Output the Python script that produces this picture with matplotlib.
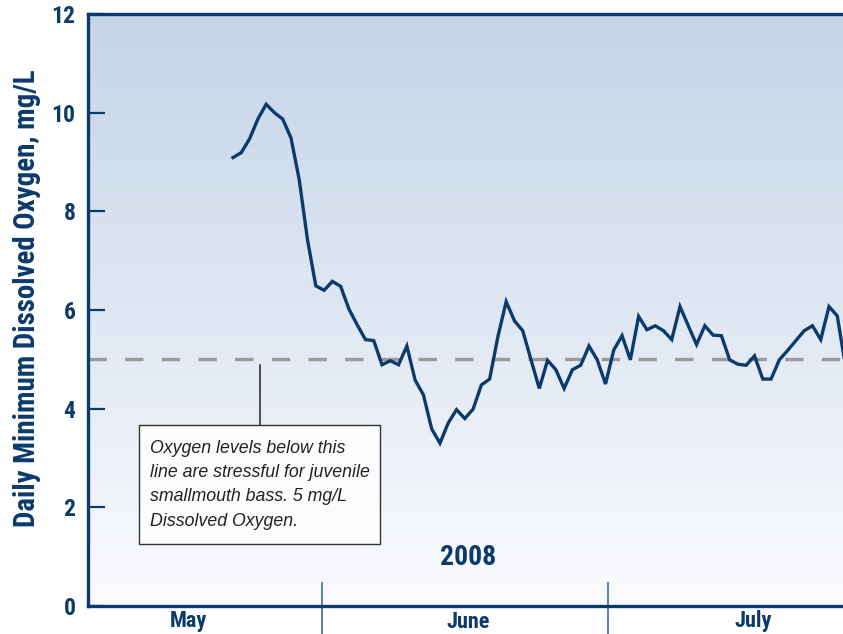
import numpy as np
import matplotlib.pyplot as plt
from matplotlib import font_manager
from matplotlib.colors import LinearSegmentedColormap
from matplotlib.patches import Rectangle

# daily minimum dissolved oxygen (mg/L), one value per day
oxygen = [9.09, 9.19, 9.47, 9.87, 10.17, 10.0, 9.87, 9.49, 8.64, 7.42,
          6.49, 6.40, 6.58, 6.48, 6.02, 5.70, 5.40, 5.38, 4.89, 4.97,
          4.89, 5.27, 4.58, 4.28, 3.59, 3.30, 3.71, 3.98, 3.80, 3.99,
          4.48, 4.60, 5.46, 6.17, 5.78, 5.58, 4.99, 4.41, 4.98, 4.79,
          4.41, 4.79, 4.88, 5.27, 4.99, 4.50, 5.19, 5.48, 4.99, 5.87,
          5.60, 5.68, 5.58, 5.40, 6.07, 5.68, 5.30, 5.68, 5.49, 5.48,
          4.99, 4.90, 4.88, 5.07, 4.60, 4.60, 4.99, 5.18, 5.38, 5.58,
          5.68, 5.40, 6.07, 5.88, 4.85]
day = np.arange(len(oxygen))

months = ["May", "June", "July"]
month_label_x = [-5.4, 28.4, 62.9]
month_label_y = [-0.31, -0.33, -0.31]
month_bounds = [10.75, 45.3]
threshold = 5
y_ticks = [0, 2, 4, 6, 8, 10, 12]

navy = "#0b3a6b"

# a narrow bold face if one is around, otherwise DejaVu
names = {f.name for f in font_manager.fontManager.ttflist}
narrow = [n for n in ["Liberation Sans Narrow", "Roboto Condensed",
                      "DejaVu Sans Condensed", "Open Sans Condensed"] if n in names]
bold_font = narrow[:1] + ["DejaVu Sans"]
k = 1.0 if narrow else 0.85

W, H = 843, 634
fig = plt.figure(figsize=(W / 100, H / 100), dpi=100)
ax = fig.add_axes([88 / W, 28 / H, (W - 88) / W, 592 / H])

xmin, xmax = -17.52, 73.69
ax.set_xlim(xmin, xmax)
ax.set_ylim(0, 12)

# background gradient
cmap = LinearSegmentedColormap.from_list("bg", ["#fafbfd", "#c5d4e9"])
grad = np.linspace(0, 1, 256).reshape(-1, 1)
ax.imshow(grad, extent=[xmin, xmax, 0, 12], origin="lower", aspect="auto",
          cmap=cmap, zorder=0)

# 5 mg/L reference
ax.axhline(threshold, color="#9a9a9a", lw=2.4, dashes=(5.5, 5.5), zorder=1)

ax.plot(day, oxygen, color=navy, lw=2.4, zorder=3, solid_joinstyle="miter")

# callout
ax.plot([3.26, 3.26], [4.88, 3.67], color="#222222", lw=1.1, zorder=2)
ax.add_patch(Rectangle((-11.36, 1.26), 29.12, 2.41, facecolor="#fbfcfe",
                       edgecolor="#333333", lw=1.0, zorder=4))
ax.text(-10.0, 3.37, "Oxygen levels below this\nline are stressful for juvenile\n"
        "smallmouth bass. 5 mg/L\nDissolved Oxygen.", fontsize=12.8,
        style="italic", family=["Liberation Sans", "DejaVu Sans"],
        color="#222222", va="top", ha="left", linespacing=1.56, zorder=5)

ax.text(28.4, 0.98, "2008", fontsize=20 * k, fontweight="bold", family=bold_font,
        color=navy, ha="center", va="center")

# month dividers and labels
for b in month_bounds:
    ax.axvline(b, ymin=-28 / 592, ymax=23 / 592, color="#5b80a8", lw=1.4,
               clip_on=False, zorder=2)
for m, mx, my in zip(months, month_label_x, month_label_y):
    ax.text(mx, my, m, fontsize=16 * k, fontweight="bold", family=bold_font,
            color=navy, ha="center", va="center", clip_on=False)

ax.set_yticks(y_ticks)
ax.set_yticklabels([str(t) for t in y_ticks], fontsize=17 * k, fontweight="bold",
                   family=bold_font, color=navy)
ax.tick_params(axis="y", direction="in", length=12, width=1.6, color=navy, pad=9)
ax.set_xticks([])

for s in ["left", "bottom", "top"]:
    ax.spines[s].set_color(navy)
    ax.spines[s].set_linewidth(2.4)
ax.spines["right"].set_visible(False)

fig.text(27 / W, 1 - 298 / H, "Daily Minimum Dissolved Oxygen, mg/L", rotation=90,
         fontsize=20.8 * k, fontweight="bold", family=bold_font,
         color=navy, ha="center", va="center")

fig.savefig("out.png", dpi=100)
